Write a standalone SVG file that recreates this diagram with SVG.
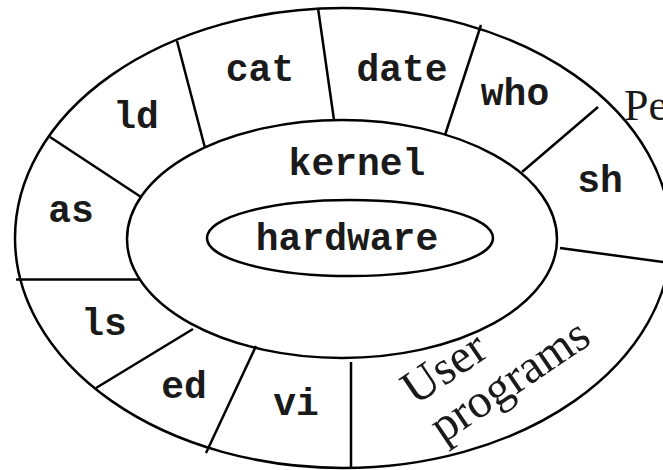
<svg xmlns="http://www.w3.org/2000/svg" width="663" height="470" viewBox="0 0 663 470">
<style>
.sh{fill:none;stroke:#000;stroke-width:2.5}
.dv{stroke:#000;stroke-width:2.5;fill:none}
.m{font-family:"Liberation Mono","DejaVu Sans Mono",monospace;font-weight:bold;font-size:38px;fill:#1a1a1a;text-anchor:middle}
.s{font-family:"Liberation Serif","DejaVu Serif",serif;font-size:48px;fill:#1a1a1a}
</style>
<rect width="663" height="470" fill="#fff"/>
<g id="shell"><ellipse class="sh" cx="343" cy="238" rx="328" ry="230"/></g>
<g id="kernel"><ellipse class="sh" cx="342" cy="239" rx="215" ry="119"/><text class="m" x="357" y="175">kernel</text></g>
<g id="hardware"><ellipse class="sh" cx="350" cy="238" rx="143" ry="38"/><text class="m" x="347" y="250">hardware</text></g>
<g id="dividers">
<line class="dv" x1="50" y1="137" x2="141" y2="197"/>
<line class="dv" x1="177" y1="41" x2="205" y2="148"/>
<line class="dv" x1="318" y1="8" x2="334" y2="120"/>
<line class="dv" x1="481" y1="25" x2="445" y2="135"/>
<line class="dv" x1="598" y1="107" x2="522" y2="172"/>
<line class="dv" x1="560" y1="248" x2="670" y2="263"/>
<line class="dv" x1="16" y1="279.5" x2="140" y2="279.5"/>
<line class="dv" x1="96" y1="388" x2="193" y2="329"/>
<line class="dv" x1="256" y1="346" x2="206" y2="453"/>
<line class="dv" x1="351" y1="362" x2="351" y2="469"/>
</g>
<g id="ld"><text class="m" x="136" y="128">ld</text></g>
<g id="cat"><text class="m" x="260" y="81">cat</text></g>
<g id="date"><text class="m" x="402" y="81">date</text></g>
<g id="who"><text class="m" x="515" y="105">who</text></g>
<g id="sh"><text class="m" x="600" y="192">sh</text></g>
<g id="as"><text class="m" x="71" y="222">as</text></g>
<g id="ls"><text class="m" x="104" y="335">ls</text></g>
<g id="ed"><text class="m" x="184" y="398">ed</text></g>
<g id="vi"><text class="m" x="296" y="415">vi</text></g>
<g id="user-programs"><text class="s" transform="translate(415,406) rotate(-34)"><tspan x="0" y="0">User</tspan><tspan x="2" y="47">programs</tspan></text></g>
<g id="pe"><text class="s" x="624" y="120" style="font-size:44px">Pe</text></g>
</svg>
